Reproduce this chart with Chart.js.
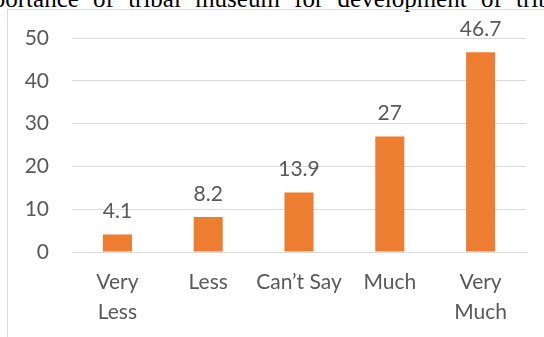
<!DOCTYPE html>
<html>
<head>
<meta charset="utf-8">
<script src="https://cdn.jsdelivr.net/npm/chart.js@4/dist/chart.umd.min.js"></script>
<style>
  body { margin: 0; background: #fff; width: 544px; height: 337px; overflow: hidden; position: relative; }
  .heading {
    position: absolute; left: -35px; top: -14px;
    font-family: "Liberation Serif", serif; font-size: 25px; line-height: 1;
    word-spacing: 8px; white-space: nowrap; color: #000;
  }
  .frame {
    position: absolute; left: 7px; top: 9px; width: 700px; height: 400px;
    border-left: 1px solid #d9d9d9; border-top: 1px solid #d9d9d9;
  }
  #chart { position: absolute; left: 0; top: 0; }
</style>
</head>
<body>
<div class="heading">Importance of tribal museum for development of tribal people</div>
<div class="frame"></div>
<canvas id="chart" width="544" height="337"></canvas>
<script>
const categories = [['Very', 'Less'], 'Less', 'Can’t Say', 'Much', ['Very', 'Much']];
const shares = [4.1, 8.2, 13.9, 27, 46.7];
const yTicks = [0, 10, 20, 30, 40, 50];

const textGrey = '#595959';
const lineGrey = '#d9d9d9';
const labelFont = { family: 'Lato', size: 21, lineHeight: 1.43 };

// value written above each bar
const barValueLabels = {
  id: 'barValueLabels',
  afterDatasetsDraw(chart) {
    const { ctx } = chart;
    const meta = chart.getDatasetMeta(0);
    ctx.save();
    ctx.font = labelFont.size + 'px ' + labelFont.family;
    ctx.fillStyle = textGrey;
    ctx.textAlign = 'center';
    ctx.textBaseline = 'middle';
    meta.data.forEach((bar, i) => {
      ctx.fillText(String(shares[i]), bar.x, bar.y - 23);
    });
    ctx.restore();
  }
};

new Chart(document.getElementById('chart'), {
  type: 'bar',
  data: {
    labels: categories,
    datasets: [{
      data: shares,
      backgroundColor: '#ed7d31',
      categoryPercentage: 1,
      barPercentage: 0.32
    }]
  },
  options: {
    responsive: false,
    animation: false,
    layout: { padding: { top: 37, right: 18, bottom: 0, left: 0 } },
    plugins: { legend: { display: false }, tooltip: { enabled: false } },
    scales: {
      x: {
        grid: { display: false },
        border: { color: lineGrey, width: 1 },
        ticks: { color: textGrey, font: labelFont, padding: 7, maxRotation: 0, autoSkip: false },
        afterFit(scale) { scale.height = 85; }
      },
      y: {
        min: yTicks[0],
        max: yTicks[yTicks.length - 1],
        afterBuildTicks(scale) { scale.ticks = yTicks.map(v => ({ value: v })); },
        grid: { color: lineGrey, drawTicks: false },
        border: { display: false },
        ticks: { color: textGrey, font: labelFont, padding: 23 },
        afterFit(scale) { scale.width = 72; }
      }
    }
  },
  plugins: [barValueLabels]
});
</script>
</body>
</html>
